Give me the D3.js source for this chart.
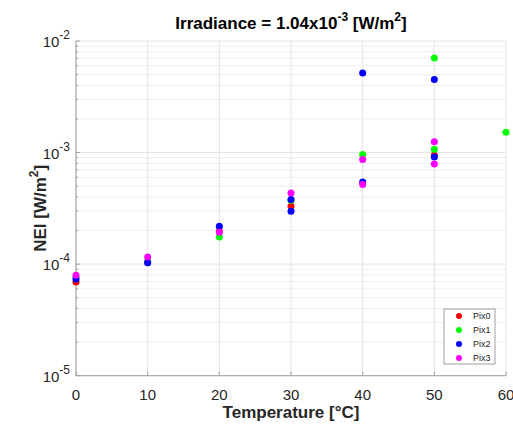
<!DOCTYPE html>
<html>
<head>
<meta charset="utf-8">
<script src="https://cdn.jsdelivr.net/npm/d3@7"></script>
<style>
  body { margin: 0; background: #fff; }
  text { font-family: "Liberation Sans", Arial, sans-serif; }
</style>
</head>
<body>
<svg width="513" height="426"></svg>
<script>
// Series names and colours
const seriesNames = ["Pix0", "Pix1", "Pix2", "Pix3"];
const seriesColors = ["#ff0000", "#00ff00", "#0000ff", "#ff00ff"];

// Temperature [°C] and NEI [W/m^2] per pixel
const pix0Temp = [0, 10, 20, 30, 50];
const pix0NEI  = [6.9e-5, 1.04e-4, 1.97e-4, 3.3e-4, 9.46e-4];
const pix1Temp = [0, 10, 20, 30, 40, 50, 50, 60];
const pix1NEI  = [7.65e-5, 1.06e-4, 1.75e-4, 3.74e-4, 9.6e-4, 7.03e-3, 1.07e-3, 1.52e-3];
const pix2Temp = [0, 10, 20, 30, 30, 40, 40, 50, 50];
const pix2NEI  = [7.34e-5, 1.03e-4, 2.19e-4, 2.98e-4, 3.8e-4, 5.16e-3, 5.46e-4, 4.51e-3, 9.12e-4];
const pix3Temp = [0, 10, 20, 30, 40, 40, 50, 50];
const pix3NEI  = [7.97e-5, 1.156e-4, 1.93e-4, 4.33e-4, 8.65e-4, 5.17e-4, 1.25e-3, 7.9e-4];

const xTicks = [0, 10, 20, 30, 40, 50, 60];
const yExponents = [-5, -4, -3, -2];

const allTemps = [pix0Temp, pix1Temp, pix2Temp, pix3Temp];
const allNEI = [pix0NEI, pix1NEI, pix2NEI, pix3NEI];

const plotLeft = 76, plotRight = 506, plotTop = 41, plotBottom = 375.7;

const svg = d3.select("svg");

const x = d3.scaleLinear().domain([0, 60]).range([plotLeft, plotRight]);
const y = d3.scaleLog().domain([1e-5, 1e-2]).range([plotBottom, plotTop]);

// Grid lines
const grid = svg.append("g");
const minorVals = [];
yExponents.slice(0, -1).forEach(e => {
  for (let k = 2; k <= 9; k++) minorVals.push(k * Math.pow(10, e));
});
grid.selectAll(".ymin").data(minorVals).enter().append("line")
    .attr("x1", plotLeft).attr("x2", plotRight)
    .attr("y1", d => y(d)).attr("y2", d => y(d))
    .attr("stroke", "#efefef").attr("stroke-width", 1);
grid.selectAll(".ymaj").data(yExponents).enter().append("line")
    .attr("x1", plotLeft).attr("x2", plotRight)
    .attr("y1", d => y(Math.pow(10, d))).attr("y2", d => y(Math.pow(10, d)))
    .attr("stroke", "#e4e4e4").attr("stroke-width", 1);
grid.selectAll(".xg").data(xTicks).enter().append("line")
    .attr("x1", d => x(d)).attr("x2", d => x(d))
    .attr("y1", plotTop).attr("y2", plotBottom)
    .attr("stroke", "#e4e4e4").attr("stroke-width", 1);

// Axes lines and inward ticks
const axisColor = "#a0a0a0";
svg.append("line").attr("x1", plotLeft).attr("x2", plotLeft).attr("y1", plotTop).attr("y2", plotBottom)
    .attr("stroke", axisColor);
svg.append("line").attr("x1", plotLeft).attr("x2", plotRight).attr("y1", plotBottom).attr("y2", plotBottom)
    .attr("stroke", axisColor);
svg.selectAll(".ytk").data(yExponents).enter().append("line")
    .attr("x1", plotLeft).attr("x2", plotLeft + 4)
    .attr("y1", d => y(Math.pow(10, d))).attr("y2", d => y(Math.pow(10, d)))
    .attr("stroke", axisColor);
svg.selectAll(".ymtk").data(minorVals).enter().append("line")
    .attr("x1", plotLeft).attr("x2", plotLeft + 2)
    .attr("y1", d => y(d)).attr("y2", d => y(d))
    .attr("stroke", axisColor);
svg.selectAll(".xtk").data(xTicks).enter().append("line")
    .attr("x1", d => x(d)).attr("x2", d => x(d))
    .attr("y1", plotBottom).attr("y2", plotBottom - 4)
    .attr("stroke", axisColor);

// Tick labels
svg.selectAll(".xl").data(xTicks).enter().append("text")
    .attr("x", d => x(d)).attr("y", plotBottom + 24)
    .attr("text-anchor", "middle").attr("font-size", 15).attr("fill", "#262626")
    .text(d => d);

const yl = svg.selectAll(".yl").data(yExponents).enter().append("text")
    .attr("x", plotLeft - 6).attr("y", d => y(Math.pow(10, d)) + 6)
    .attr("text-anchor", "end").attr("font-size", 15).attr("fill", "#262626");
yl.append("tspan").text("10");
yl.append("tspan").attr("dy", -8).attr("font-size", 12).text(d => "-" + Math.abs(d));

// Points
seriesNames.forEach((name, i) => {
  const pts = allTemps[i].map((t, j) => ({t: t, v: allNEI[i][j]}));
  svg.append("g").selectAll("circle").data(pts).enter().append("circle")
      .attr("cx", d => x(d.t)).attr("cy", d => y(d.v))
      .attr("r", 3.5).attr("fill", seriesColors[i]);
});

// Title
const title = svg.append("text")
    .attr("x", (plotLeft + plotRight) / 2).attr("y", 29)
    .attr("text-anchor", "middle").attr("font-size", 17).attr("font-weight", "bold")
    .attr("fill", "#000");
title.append("tspan").text("Irradiance = 1.04x10");
title.append("tspan").attr("dy", -8).attr("font-size", 12).text("-3");
title.append("tspan").attr("dy", 8).text(" [W/m");
title.append("tspan").attr("dy", -8).attr("font-size", 12).text("2");
title.append("tspan").attr("dy", 8).text("]");

// X label
svg.append("text")
    .attr("x", (plotLeft + plotRight) / 2).attr("y", 418)
    .attr("text-anchor", "middle").attr("font-size", 17).attr("font-weight", "bold")
    .attr("fill", "#262626")
    .text("Temperature [\u00B0C]");

// Y label
const ylab = svg.append("text")
    .attr("transform", `translate(46,${(plotTop + plotBottom) / 2}) rotate(-90)`)
    .attr("text-anchor", "middle").attr("font-size", 17).attr("font-weight", "bold")
    .attr("fill", "#262626");
ylab.append("tspan").text("NEI [W/m");
ylab.append("tspan").attr("dy", -8).attr("font-size", 12).text("2");
ylab.append("tspan").attr("dy", 8).text("]");

// Legend
const lg = svg.append("g");
lg.append("rect").attr("x", 444).attr("y", 309).attr("width", 51).attr("height", 55)
    .attr("fill", "#fff").attr("stroke", "#a0a0a0");
seriesNames.forEach((name, i) => {
  const ry = 316 + i * 14;
  lg.append("circle").attr("cx", 459).attr("cy", ry).attr("r", 3).attr("fill", seriesColors[i]);
  lg.append("text").attr("x", 473).attr("y", ry + 3).attr("font-size", 9)
      .attr("fill", "#262626").text(name);
});
</script>
</body>
</html>
